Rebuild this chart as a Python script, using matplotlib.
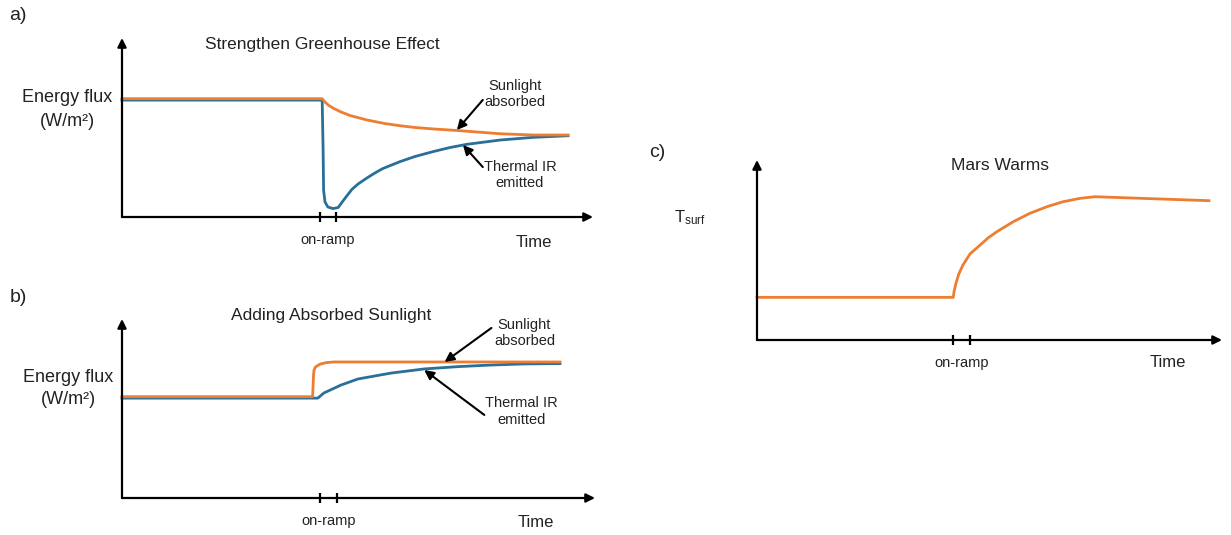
import matplotlib
matplotlib.use("Agg")
import matplotlib.pyplot as plt

plt.rcParams['font.family'] = ['Liberation Sans', 'DejaVu Sans']
plt.rcParams['mathtext.fontset'] = 'custom'
plt.rcParams['mathtext.rm'] = 'Liberation Sans'
plt.rcParams['mathtext.it'] = 'Liberation Sans'

ORANGE = '#ED7D31'
BLUE = '#2A6F97'
TXT = '#222222'

# ---------------- data (time and flux in arbitrary units, 0..10) ----------------
# Panel a: strengthen greenhouse effect
a_sun_t = [0.00, 4.25, 4.31, 4.39, 4.50, 4.63, 4.84, 5.20, 5.58, 5.90, 6.22, 6.60,
           7.13, 8.03, 8.73, 9.47]
a_sun_f = [6.61, 6.61, 6.42, 6.23, 6.06, 5.89, 5.67, 5.42, 5.22, 5.10, 5.00, 4.92,
           4.83, 4.65, 4.58, 4.58]
a_ir_t = [0.00, 4.25, 4.27, 4.28, 4.31, 4.37, 4.48, 4.59, 4.69, 4.78, 4.88, 5.01,
          5.20, 5.37, 5.54, 5.90, 6.22, 6.60, 6.96, 7.32, 8.03, 8.73, 9.47]
a_ir_f = [6.53, 6.53, 3.74, 1.51, 0.84, 0.56, 0.47, 0.53, 0.89, 1.20, 1.54, 1.84,
          2.18, 2.46, 2.71, 3.09, 3.38, 3.65, 3.88, 4.06, 4.30, 4.45, 4.54]

# Panel b: adding absorbed sunlight
b_sun_t = [0.00, 4.03, 4.05, 4.06, 4.09, 4.18, 4.31, 4.48, 9.26]
b_sun_f = [5.66, 5.66, 6.90, 7.15, 7.32, 7.47, 7.56, 7.60, 7.60]
b_ir_t = [0.00, 4.14, 4.27, 4.63, 4.99, 5.69, 6.39, 7.11, 7.81, 8.51, 9.26]
b_ir_f = [5.58, 5.58, 5.87, 6.31, 6.65, 6.98, 7.21, 7.34, 7.43, 7.49, 7.51]

# Panel c: Mars warms
c_t = [0.00, 4.22, 4.24, 4.28, 4.34, 4.43, 4.58, 4.80, 4.97, 5.16, 5.51, 5.87, 6.24,
       6.58, 6.95, 7.27, 9.72]
c_T = [2.37, 2.37, 2.72, 3.17, 3.67, 4.17, 4.78, 5.28, 5.67, 6.02, 6.57, 7.04, 7.41,
       7.68, 7.87, 7.96, 7.74]

# on-ramp tick positions (time units)
a_ticks = [4.20, 4.54]
b_ticks = [4.18, 4.54]
c_ticks = [4.22, 4.58]

W, H = 1231, 535
fig = plt.figure(figsize=(W / 100, H / 100), dpi=100)


def make_axes(x0, y0, xlen, ylen):
    ax = fig.add_axes([x0 / W, 1 - y0 / H, xlen / W, ylen / H])
    ax.set_xlim(0, 10)
    ax.set_ylim(0, 10)
    ax.axis('off')
    ap = dict(arrowstyle='-|>', lw=1.6, color='black', mutation_scale=13,
              shrinkA=0, shrinkB=0)
    ax.annotate('', xy=(10, 0), xytext=(0, 0), arrowprops=ap, annotation_clip=False)
    ax.annotate('', xy=(0, 10), xytext=(0, 0), arrowprops=ap, annotation_clip=False)
    return ax


def ticks(ax, xs):
    for x in xs:
        ax.plot([x, x], [-0.3, 0.3], color='black', lw=1.6, clip_on=False,
                solid_capstyle='butt')
    ax.text(sum(xs) / len(xs), -1.3, 'on-ramp', ha='center', va='center',
            fontsize=10.5, color=TXT)


def pointer(ax, tip, tail):
    ax.annotate('', xy=tip, xytext=tail, annotation_clip=False,
                arrowprops=dict(arrowstyle='-|>', lw=1.5, color='black',
                                mutation_scale=14, shrinkA=0, shrinkB=0))


# ---------------- panel a ----------------
axa = make_axes(122, 217, 471, 179)
axa.plot(a_ir_t, a_ir_f, color=BLUE, lw=2.0, clip_on=False, solid_joinstyle='round')
axa.plot(a_sun_t, a_sun_f, color=ORANGE, lw=2.0, clip_on=False, solid_joinstyle='round')
ticks(axa, a_ticks)
axa.text(4.25, 9.61, 'Strengthen Greenhouse Effect', ha='center', va='center',
         fontsize=12.5, color=TXT)
axa.text(8.34, 6.85, 'Sunlight\nabsorbed', ha='center', va='center', fontsize=10.5,
         color=TXT, linespacing=1.2)
axa.text(8.45, 2.35, 'Thermal IR\nemitted', ha='center', va='center', fontsize=10.5,
         color=TXT, linespacing=1.2)
pointer(axa, (7.11, 4.86), (7.66, 6.54))
pointer(axa, (7.24, 4.02), (7.66, 2.79))
axa.text(8.75, -1.4, 'Time', ha='center', va='center', fontsize=12, color=TXT)

# ---------------- panel b ----------------
axb = make_axes(122, 498, 473, 179)
axb.plot(b_ir_t, b_ir_f, color=BLUE, lw=2.0, clip_on=False, solid_joinstyle='round')
axb.plot(b_sun_t, b_sun_f, color=ORANGE, lw=2.0, clip_on=False, solid_joinstyle='round')
ticks(axb, b_ticks)
axb.text(4.42, 10.22, 'Adding Absorbed Sunlight', ha='center', va='center',
         fontsize=12.5, color=TXT)
axb.text(8.51, 9.22, 'Sunlight\nabsorbed', ha='center', va='center', fontsize=10.5,
         color=TXT, linespacing=1.2)
axb.text(8.45, 4.83, 'Thermal IR\nemitted', ha='center', va='center', fontsize=10.5,
         color=TXT, linespacing=1.2)
pointer(axb, (6.82, 7.60), (7.81, 9.50))
pointer(axb, (6.39, 7.15), (7.66, 4.64))
axb.text(8.75, -1.35, 'Time', ha='center', va='center', fontsize=12, color=TXT)

# ---------------- panel c ----------------
axc = make_axes(757, 340, 465, 180)
axc.plot(c_t, c_T, color=ORANGE, lw=2.0, clip_on=False, solid_joinstyle='round')
ticks(axc, c_ticks)
axc.text(5.23, 9.67, 'Mars Warms', ha='center', va='center', fontsize=12.5, color=TXT)
axc.text(8.84, -1.25, 'Time', ha='center', va='center', fontsize=12, color=TXT)

# ---------------- figure-level labels ----------------
def ftext(x, y, s, **kw):
    fig.text(x / W, 1 - y / H, s, ha='center', va='center', color=TXT, **kw)

ftext(18, 15, 'a)', fontsize=14)
ftext(18, 298, 'b)', fontsize=14)
ftext(657, 152, 'c)', fontsize=14)
ftext(67, 97, 'Energy flux', fontsize=13)
ftext(67, 121, '(W/m²)', fontsize=13)
ftext(68, 378, 'Energy flux', fontsize=13)
ftext(68, 400, '(W/m²)', fontsize=13)
ftext(690, 218, r'T$_{\mathrm{surf}}$', fontsize=12)

fig.savefig('out.png', dpi=100)
